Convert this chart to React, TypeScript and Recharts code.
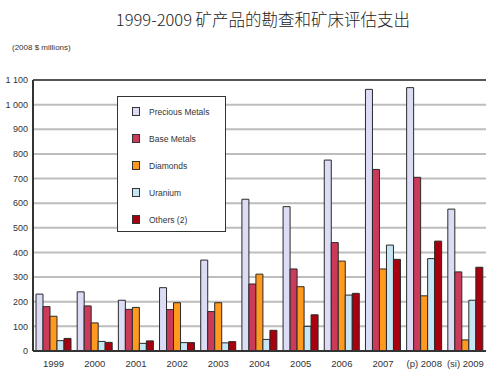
import React from 'react';
import { BarChart, Bar, XAxis, YAxis, CartesianGrid, ReferenceLine } from 'recharts';

const categories = ['1999', '2000', '2001', '2002', '2003', '2004', '2005', '2006', '2007', '(p) 2008', '(si) 2009'];
const preciousMetals = [231, 240, 206, 257, 369, 616, 586, 775, 1062, 1069, 576];
const baseMetals = [180, 183, 169, 168, 160, 272, 333, 440, 737, 705, 321];
const diamonds = [141, 114, 177, 196, 196, 312, 261, 365, 333, 224, 45];
const uranium = [42, 39, 31, 34, 33, 47, 100, 227, 430, 375, 206];
const others = [51, 35, 41, 34, 38, 84, 147, 234, 372, 446, 340];
const yTicks = [0, 100, 200, 300, 400, 500, 600, 700, 800, 900, 1000, 1100];

const seriesNames = ['Precious Metals', 'Base Metals', 'Diamonds', 'Uranium', 'Others (2)'];
const seriesKeys = ['precious', 'base', 'diamonds', 'uranium', 'others'];
const seriesColors = ['#dcdcf6', '#cc3a5a', '#ff9a1e', '#c6e6f6', '#a8000f'];

const data = categories.map((c, i) => ({
  name: c,
  precious: preciousMetals[i],
  base: baseMetals[i],
  diamonds: diamonds[i],
  uranium: uranium[i],
  others: others[i],
}));

const font = '"Liberation Sans", Arial, sans-serif';

const fmt = (v: number) =>
  v >= 1000 ? `${Math.floor(v / 1000)}\u00a0${String(v % 1000).padStart(3, '0')}` : String(v);

const LegendBox = () => (
  <div
    style={{
      position: 'absolute',
      left: 117,
      top: 96,
      width: 109,
      height: 136,
      border: '1.5px solid #333',
      background: '#fff',
      boxSizing: 'border-box',
      paddingTop: 1,
      fontFamily: font,
      fontSize: 8.5,
      color: '#333',
      zIndex: 2,
    }}
  >
    {seriesNames.map((n, i) => (
      <div key={n} style={{ display: 'flex', alignItems: 'center', height: 27, paddingLeft: 14 }}>
        <span
          style={{
            display: 'inline-block',
            width: 6,
            height: 7,
            background: seriesColors[i],
            border: '1px solid #333',
            marginRight: 9,
          }}
        />
        <span>{n}</span>
      </div>
    ))}
  </div>
);

export default function App() {
  return (
    <div style={{ position: 'absolute', left: 0, top: 0, width: 496, height: 388, background: '#fff' }}>
      <div
        style={{
          position: 'absolute',
          left: 0,
          width: 526,
          top: 7,
          textAlign: 'center',
          fontFamily: '"Noto Sans CJK SC", sans-serif',
          fontSize: 16.5,
          color: '#222',
          fontWeight: 300,
        }}
      >
        1999-2009 矿产品的勘查和矿床评估支出
      </div>
      <div
        style={{
          position: 'absolute',
          left: 12,
          top: 43,
          fontFamily: font,
          fontSize: 8,
          color: '#333',
        }}
      >
        (2008 $ millions)
      </div>
      <BarChart
        width={496}
        height={388}
        data={data}
        margin={{ top: 80, right: 10, bottom: 7, left: 0 }}
        barCategoryGap={3}
        barGap={0}
      >
        <CartesianGrid vertical={false} stroke="#bdbdbd" strokeWidth={2} />
        <XAxis
          dataKey="name"
          height={30}
          tickLine={false}
          axisLine={{ stroke: '#333', strokeWidth: 2 }}
          tick={{ fontSize: 9.5, fill: '#333', fontFamily: font }}
          interval={0}
          tickMargin={3}
        />
        <YAxis
          width={33}
          domain={[0, 1100]}
          ticks={yTicks}
          interval={0}
          tickFormatter={fmt}
          tickLine={false}
          tickSize={3}
          axisLine={{ stroke: '#333', strokeWidth: 2 }}
          tick={{ fontSize: 9, fill: '#333', fontFamily: font }}
        />
        <YAxis
          yAxisId="r"
          orientation="right"
          width={0}
          domain={[0, 1100]}
          tick={false}
          tickLine={false}
          axisLine={{ stroke: '#333', strokeWidth: 1.5 }}
        />
        <ReferenceLine y={1100} stroke="#333" strokeWidth={1.5} />
        {seriesKeys.map((k, i) => (
          <Bar
            key={k}
            dataKey={k}
            name={seriesNames[i]}
            fill={seriesColors[i]}
            stroke="#2a2a2a"
            strokeWidth={1}
            isAnimationActive={false}
          />
        ))}
      </BarChart>
      <LegendBox />
    </div>
  );
}
